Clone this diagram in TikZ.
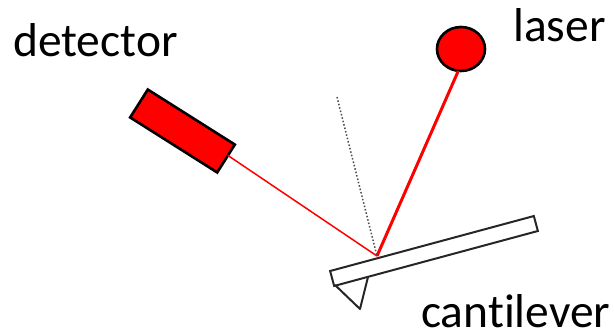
\documentclass[tikz,border=0pt]{standalone}
\usepackage{fontspec}
\setmainfont[Ligatures=NoCommon]{Carlito}
\usetikzlibrary{positioning,shapes.geometric}
\tikzset{
  beam/.style={draw=red,line width=1.5pt},
  partbox/.style={draw=black,line width=2.6pt,inner sep=0pt,outer sep=0pt},
  thinpart/.style={draw=black!85,line width=2pt},
  label/.style={anchor=base west,inner sep=0pt,font=\fontsize{47.5}{54}\selectfont}
}
\begin{document}
\begin{tikzpicture}[x=1pt,y=-1pt]
  \useasboundingbox (0,0) rectangle (614,333);
  % pixel coordinates of the reference, y pointing down
  \coordinate (contact) at (377,256);
  \coordinate (normal) at (337,97);

  \node[partbox,fill=red,minimum width=103pt,minimum height=33pt,rotate=-32.3] (detector) at (182.5,131) {};
  \node[partbox,fill=red,ellipse,minimum width=48pt,minimum height=44pt] (laser) at (461,49) {};
  \node[thinpart,fill=white,inner sep=0pt,minimum width=211pt,minimum height=15.5pt,rotate=15.1] (cantilever) at (434,251) {};

  \coordinate (tipleft) at (335,285);
  \coordinate (tipright) at (368,277);
  \coordinate (tipend) at (360,309);
  \draw[thinpart,line join=round] (tipleft) -- (tipend) -- (tipright);

  \draw[beam] (detector.4.5) -- (contact);
  \draw[beam,line width=3pt] (laser.-97) -- (contact);
  \draw[line width=1.5pt,black!70,dotted] (normal) -- (contact);

  \node[label] (detectortext) at (13,56.5) {detector};
  \node[label] (lasertext) at (513,41) {laser};
  \node[label] (cantilevertext) at (421,327.5) {cantilever};
\end{tikzpicture}
\end{document}
